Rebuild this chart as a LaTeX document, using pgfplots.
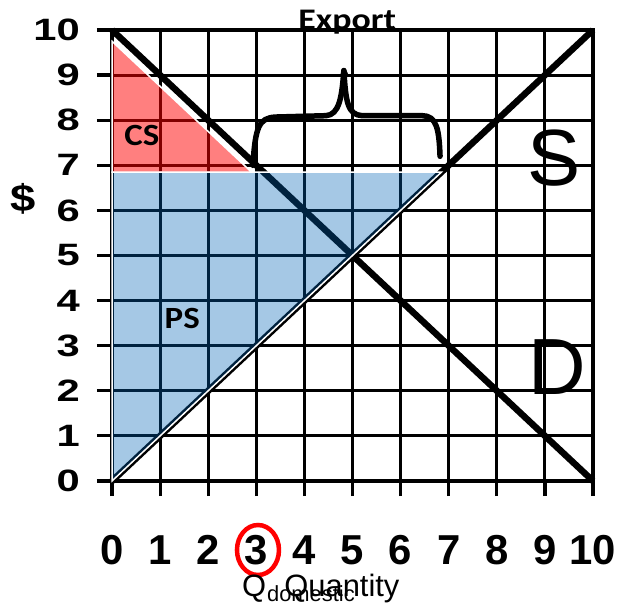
\documentclass[border=0pt]{standalone}
\usepackage{pgfplots}
\pgfplotsset{compat=1.18}
\usepackage{fontspec}
\setmainfont{Liberation Sans}
\newfontfamily\carlito{Carlito}
\definecolor{psblue}{RGB}{0,99,181}
\begin{document}
\begin{tikzpicture}
\path[use as bounding box] (0,0) rectangle (621bp,608bp);
\begin{axis}[
 at={(112bp,127bp)}, anchor=south west,
 scale only axis, width=481bp, height=451bp,
 xmin=0,xmax=10,ymin=0,ymax=10,
 xtick={0,...,10}, ytick={0,...,10},
 grid=major, major grid style={black, line width=3bp},
 axis line style={black, line width=3.2bp},
 tick style={black, line width=3.2bp},
 major tick length=15bp, tick align=outside,
 xtick pos=bottom, ytick pos=left,
 /pgf/number format/assume math mode=true,
 xticklabel style={font=\fontsize{42}{42}\selectfont\bfseries, anchor=center, yshift=-54bp},
 yticklabel style={font=\fontsize{31}{31}\selectfont\bfseries, anchor=east, inner sep=0pt, xshift=-17bp, xscale=1.35},
 clip=false,
]
\addplot[black, line width=6.5bp] coordinates {(0,10) (10,0)};
\addplot[black, line width=6.5bp] coordinates {(0,0) (10,10)};
\addplot[fill=psblue, fill opacity=0.353, draw=white, line width=1.5bp] coordinates {(0,0) (0,6.85) (6.85,6.85)} -- cycle;
\addplot[fill=red, fill opacity=0.5, draw=white, line width=1.5bp] coordinates {(0,9.75) (0,6.85) (2.9,6.85)} -- cycle;
\draw[black, line width=5.5bp, line cap=round, line join=round] (axis cs:2.93,7.0) .. controls (axis cs:2.98,7.85) and (axis cs:3.05,8.05) .. (axis cs:3.4,8.07) -- (axis cs:4.45,8.1) .. controls (axis cs:4.72,8.12) and (axis cs:4.78,8.5) .. (axis cs:4.82,9.1);
\draw[black, line width=5.5bp, line cap=round, line join=round] (axis cs:4.82,9.1) .. controls (axis cs:4.86,8.4) and (axis cs:4.9,8.12) .. (axis cs:5.2,8.1) -- (axis cs:6.45,8.1) .. controls (axis cs:6.75,8.1) and (axis cs:6.8,7.8) .. (axis cs:6.82,7.2);
\fill[black] (axis cs:4.83,9.02) circle (3.8bp);
\node[anchor=base, font=\carlito\fontsize{30}{30}\selectfont\bfseries, xscale=1.2, inner sep=0pt] at (axis cs:4.89,10.02) {Export};
\node[font=\carlito\fontsize{31}{31}\selectfont\bfseries, xscale=1.13, inner sep=0pt] at (axis cs:0.62,7.67) {CS};
\node[font=\carlito\fontsize{31}{31}\selectfont\bfseries, xscale=1.13, inner sep=0pt] at (axis cs:1.46,3.61) {PS};
\node[font=\fontsize{80}{80}\selectfont, inner sep=0pt] at (axis cs:9.19,7.16) {S};
\node[font=\fontsize{80}{80}\selectfont, inner sep=0pt] at (axis cs:9.25,2.53) {D};
\node[font=\fontsize{38}{38}\selectfont\bfseries, xscale=1.2, inner sep=0pt] at (axis cs:-1.84,6.25) {\$};
\draw[red, line width=4.5bp] (axis cs:3.035,-1.53) ellipse (21bp and 25bp);
\node[anchor=base west, font=\fontsize{31}{31}\selectfont, inner sep=0pt] at (axis cs:2.70,-2.57) {Q};
\node[anchor=base west, font=\fontsize{22}{22}\selectfont, inner sep=0pt] at (axis cs:3.22,-2.68) {domestic};
\node[anchor=base west, font=\fontsize{31}{31}\selectfont, inner sep=0pt] at (axis cs:3.58,-2.57) {Quantity};
\end{axis}
\end{tikzpicture}
\end{document}
